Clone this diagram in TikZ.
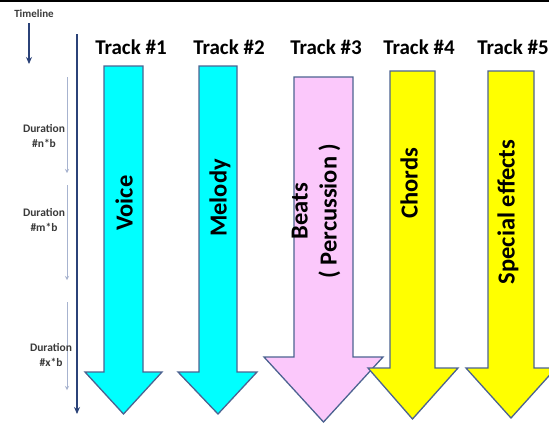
\documentclass[tikz,border=0pt]{standalone}
\usepackage{fontspec}
\setmainfont{Carlito}
\usetikzlibrary{arrows.meta}
\definecolor{navy}{HTML}{2B4278}
\definecolor{thinblue}{HTML}{A7B3CF}
\definecolor{edgeblue}{HTML}{4C6391}
\definecolor{pinkfill}{HTML}{FBC8FB}
\definecolor{cyanfill}{HTML}{00FFFF}
\definecolor{yellowfill}{HTML}{FFFF00}
\definecolor{labelgray}{HTML}{3A3A3A}
\tikzset{
  trackarrow/.style={draw=edgeblue, line width=1.3pt, line join=miter},
  tracklabel/.style={font=\bfseries\fontsize{21}{23}\selectfont, inner sep=0pt},
  inlabel/.style={font=\bfseries\fontsize{24.5}{29}\selectfont, rotate=90, inner sep=0pt, align=center},
  durlabel/.style={font=\bfseries\fontsize{11.5}{15}\selectfont, text=labelgray, inner sep=0pt, align=center},
  navyarrow/.style={draw=navy, line width=1.8pt, -{Stealth[length=7pt,width=6pt]}},
  thinarrow/.style={draw=thinblue, line width=0.9pt, -{Stealth[length=4pt,width=4pt]}}
}
\begin{document}
\begin{tikzpicture}[x=1pt,y=-1pt]
\useasboundingbox (0,0) rectangle (549,424);
\clip (0,0) rectangle (549,424);
\fill[white] (0,0) rectangle (549,424);
\draw[black, line width=2pt] (0,1) -- (549,1);

% Track arrows
\filldraw[trackarrow, fill=cyanfill] (104,66) -- (143,66) -- (143,372) -- (162,372) -- (123.5,414) -- (85,372) -- (104,372) -- cycle;
\filldraw[trackarrow, fill=cyanfill] (199,66) -- (237,66) -- (237,372) -- (257,372) -- (218,414) -- (178,372) -- (199,372) -- cycle;
\filldraw[trackarrow, fill=pinkfill] (294,77) -- (353,77) -- (353,357) -- (383,357) -- (323.5,422) -- (264,357) -- (294,357) -- cycle;
\filldraw[trackarrow, fill=yellowfill] (390,71) -- (435,71) -- (435,368) -- (458,368) -- (412.5,419) -- (368,368) -- (390,368) -- cycle;
\filldraw[trackarrow, fill=yellowfill] (488,71) -- (534,71) -- (534,368) -- (556,368) -- (511,418) -- (466,368) -- (488,368) -- cycle;

% Track labels
\node[tracklabel] (t1) at (131,47) {Track \#1};
\node[tracklabel] (t2) at (229,47) {Track \#2};
\node[tracklabel] (t3) at (326,47) {Track \#3};
\node[tracklabel] (t4) at (419,47) {Track \#4};
\node[tracklabel] (t5) at (513,47) {Track \#5};

% Labels inside arrows
\node[inlabel] (voice) at (124,203) {Voice};
\node[inlabel] (melody) at (220,198) {Melody};
\node[inlabel] (beats) at (316,211) {Beats\\( Percussion )};
\node[inlabel] (chords) at (409,183) {Chords};
\node[inlabel] (special) at (508,212) {Special effects};

% Timeline
\node[durlabel, font=\bfseries\fontsize{11}{13}\selectfont] (tl) at (34,14) {Timeline};
\coordinate (ta) at (29,23);
\coordinate (tb) at (29,64);
\draw[navyarrow] (ta) -- (tb);
\coordinate (ma) at (77,34);
\coordinate (mb) at (77,414);
\draw[navyarrow] (ma) -- (mb);

% Duration arrows
\coordinate (d1a) at (67,77);
\coordinate (d1b) at (67,173);
\coordinate (d2a) at (67,185);
\coordinate (d2b) at (67,280);
\coordinate (d3a) at (67,302);
\coordinate (d3b) at (67,390);
\draw[thinarrow] (d1a) -- (d1b);
\draw[thinarrow] (d2a) -- (d2b);
\draw[thinarrow] (d3a) -- (d3b);

\node[durlabel] (dur1) at (44,136) {Duration\\\#n*b};
\node[durlabel] (dur2) at (44,220) {Duration\\\#m*b};
\node[durlabel] (dur3) at (51,355) {Duration\\\#x*b};
\end{tikzpicture}
\end{document}
